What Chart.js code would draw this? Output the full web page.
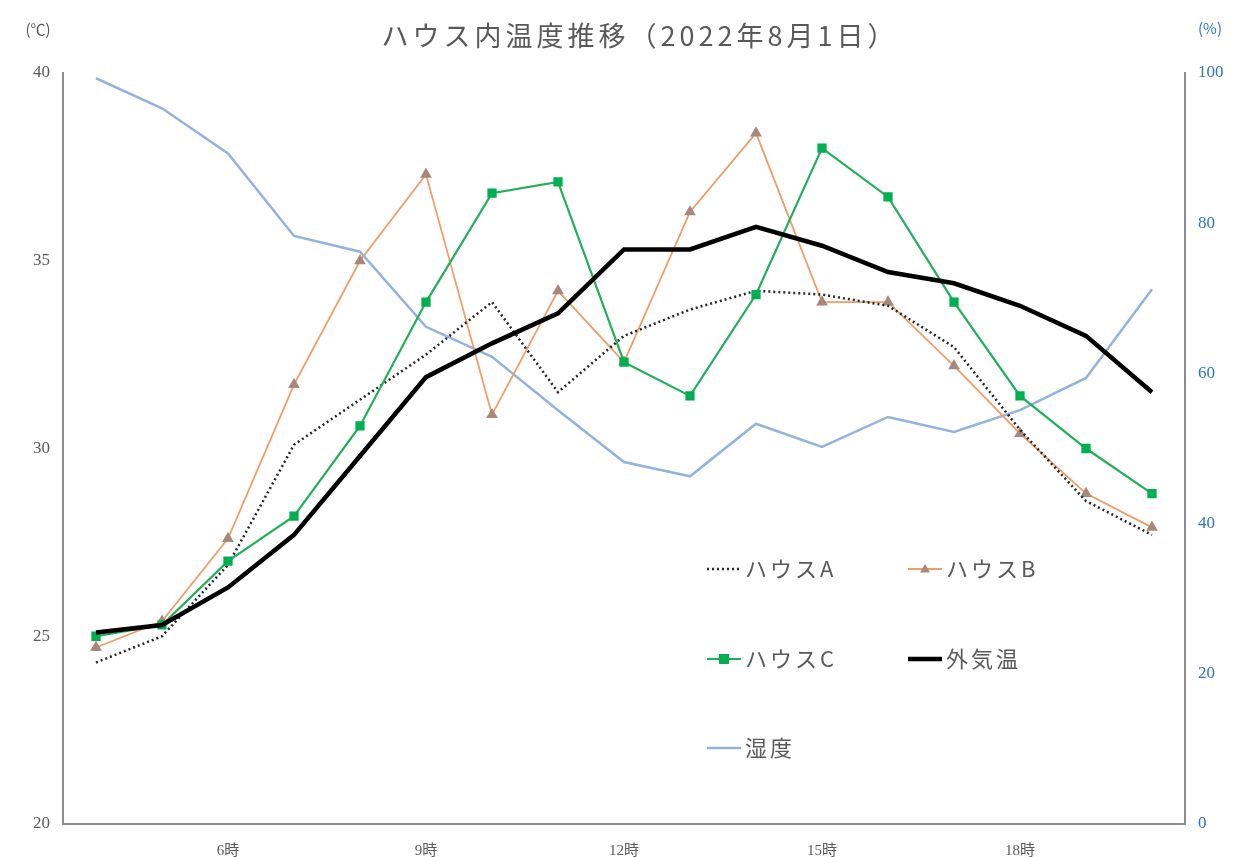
<!DOCTYPE html>
<html>
<head>
<meta charset="utf-8">
<script src="https://cdn.jsdelivr.net/npm/chart.js@4"></script>
<style>
  html, body { margin: 0; padding: 0; background: #fff; }
  #wrap { width: 1236px; height: 857px; }
</style>
</head>
<body>
<div id="wrap"><canvas id="grafik" width="1236" height="857"></canvas></div>
<script>
// data
const hours = ["4時", "5時", "6時", "7時", "8時", "9時", "10時", "11時", "12時", "13時", "14時", "15時", "16時", "17時", "18時", "19時", "20時"];
const shownHours = ["6時", "9時", "12時", "15時", "18時"];
const houseA = [24.3, 25.0, 26.9, 30.1, 31.3, 32.5, 33.9, 31.5, 33.0, 33.7, 34.2, 34.1, 33.8, 32.7, 30.5, 28.6, 27.7];
const houseB = [24.7, 25.4, 27.6, 31.7, 35.0, 37.3, 30.9, 34.2, 32.3, 36.3, 38.4, 33.9, 33.9, 32.2, 30.4, 28.8, 27.9];
const houseC = [25.0, 25.3, 27.0, 28.2, 30.6, 33.9, 36.8, 37.1, 32.3, 31.4, 34.1, 38.0, 36.7, 33.9, 31.4, 30.0, 28.8];
const outside = [25.1, 25.3, 26.3, 27.7, 29.8, 31.9, 32.8, 33.6, 35.3, 35.3, 35.9, 35.4, 34.7, 34.4, 33.8, 33.0, 31.5];
const humidity = [99.3, 95.3, 89.3, 78.3, 76.2, 66.2, 62.2, 55.1, 48.2, 46.3, 53.3, 50.2, 54.2, 52.2, 55.1, 59.4, 71.2];
const tempTicks = [20, 25, 30, 35, 40];
const humTicks = [0, 20, 40, 60, 80, 100];

const grey = "#595959";
const blue = "#2E75B6";
const numFont = "'Liberation Serif', 'Noto Sans CJK JP', serif";
const jpFont = "'Noto Sans CJK JP', sans-serif";

// legend + title drawn by hand (legend sits inside the plot)
const legendItems = [
  { label: "ハウスA", x: 707, y: 569, ds: 0 },
  { label: "ハウスB", x: 908, y: 569, ds: 1 },
  { label: "ハウスC", x: 707, y: 659, ds: 2 },
  { label: "外気温", x: 908, y: 659, ds: 3 },
  { label: "湿度", x: 707, y: 748, ds: 4 },
];

const textPlugin = {
  id: "textPlugin",
  afterDraw(chart) {
    const ctx = chart.ctx;
    ctx.save();
    // title
    ctx.fillStyle = grey;
    ctx.font = "27px " + jpFont;
    ctx.letterSpacing = "4px";
    ctx.textAlign = "center";
    ctx.textBaseline = "middle";
    ctx.fillText("ハウス内温度推移（2022年8月1日）", 640, 36);
    ctx.letterSpacing = "0px";
    // units
    ctx.font = "15px " + jpFont;
    ctx.fillText("(℃)", 38, 29);
    ctx.fillStyle = blue;
    ctx.fillText("(%)", 1210, 28);

    // legend
    legendItems.forEach((it) => {
      const ds = chart.data.datasets[it.ds];
      const x0 = it.x, x1 = it.x + 34, y = it.y;
      ctx.save();
      ctx.strokeStyle = ds.borderColor;
      ctx.lineWidth = ds.borderWidth;
      ctx.setLineDash(ds.borderDash || []);
      ctx.beginPath();
      ctx.moveTo(x0, y);
      ctx.lineTo(x1, y);
      ctx.stroke();
      ctx.setLineDash([]);
      const cx = (x0 + x1) / 2;
      const r = ds.pointRadius;
      if (ds.pointStyle === "rect" && r > 0) {
        ctx.fillStyle = ds.pointBackgroundColor;
        ctx.fillRect(cx - r, y - r, r * 2, r * 2);
      } else if (ds.pointStyle === "triangle" && r > 0) {
        ctx.fillStyle = ds.pointBackgroundColor;
        ctx.beginPath();
        ctx.moveTo(cx, y - r);
        ctx.lineTo(cx + r, y + r * 0.7);
        ctx.lineTo(cx - r, y + r * 0.7);
        ctx.closePath();
        ctx.fill();
      }
      ctx.restore();
      ctx.fillStyle = grey;
      ctx.font = "22px " + jpFont;
      ctx.letterSpacing = "3px";
      ctx.textAlign = "left";
      ctx.textBaseline = "middle";
      ctx.fillText(it.label, x1 + 4, y);
      ctx.letterSpacing = "0px";
    });
    ctx.restore();
  },
};

const chart = document.getElementById("grafik");

new Chart(chart, {
  type: "line",
  data: {
    labels: hours,
    datasets: [
      {
        label: "ハウスA",
        data: houseA,
        yAxisID: "y",
        borderColor: "#262626",
        borderWidth: 2.5,
        borderDash: [2, 3],
        pointRadius: 0,
        order: 2,
      },
      {
        label: "ハウスB",
        data: houseB,
        yAxisID: "y",
        borderColor: "#ED9E6A",
        borderWidth: 1.8,
        pointStyle: "triangle",
        pointRadius: 5,
        pointBackgroundColor: "#A8887C",
        pointBorderColor: "#A8887C",
        order: 3,
      },
      {
        label: "ハウスC",
        data: houseC,
        yAxisID: "y",
        borderColor: "#21AF5A",
        borderWidth: 2.2,
        pointStyle: "rect",
        pointRadius: 5,
        pointBackgroundColor: "#00B050",
        pointBorderColor: "#00B050",
        order: 1,
      },
      {
        label: "外気温",
        data: outside,
        yAxisID: "y",
        borderColor: "#000000",
        borderWidth: 4.5,
        pointRadius: 0,
        order: 0,
      },
      {
        label: "湿度",
        data: humidity,
        yAxisID: "y1",
        borderColor: "#93B3DC",
        borderWidth: 2.5,
        pointRadius: 0,
        order: 4,
      },
    ],
  },
  options: {
    responsive: false,
    animation: false,
    layout: { padding: { top: 73, left: 0, right: 0, bottom: 0 } },
    plugins: {
      legend: { display: false },
      title: { display: false },
      tooltip: { enabled: false },
    },
    scales: {
      x: {
        type: "category",
        offset: true,
        grid: { display: false },
        border: { display: true, color: "#8c8c8c", width: 2 },
        ticks: {
          autoSkip: false,
          maxRotation: 0,
          color: grey,
          padding: 10,
          font: { family: numFont, size: 15 },
          callback: function (val, idx) {
            const lab = this.getLabelForValue(val);
            return shownHours.includes(lab) ? lab : "";
          },
        },
        afterFit: (s) => { s.height = 857 - 824; },
      },
      y: {
        position: "left",
        min: 20,
        max: 40,
        afterBuildTicks: (s) => { s.ticks = tempTicks.map((v) => ({ value: v })); },
        grid: { display: false },
        border: { display: true, color: "#8c8c8c", width: 2 },
        ticks: {
          color: grey,
          padding: 5,
          font: { family: numFont, size: 17 },
        },
        afterFit: (s) => { s.width = 63; },
      },
      y1: {
        position: "right",
        min: 0,
        max: 100,
        afterBuildTicks: (s) => { s.ticks = humTicks.map((v) => ({ value: v })); },
        grid: { display: false },
        border: { display: true, color: "#8c8c8c", width: 2 },
        ticks: {
          color: blue,
          padding: 5,
          font: { family: numFont, size: 17 },
        },
        afterFit: (s) => { s.width = 1236 - 1185; },
      },
    },
  },
  plugins: [textPlugin],
});
</script>
</body>
</html>
